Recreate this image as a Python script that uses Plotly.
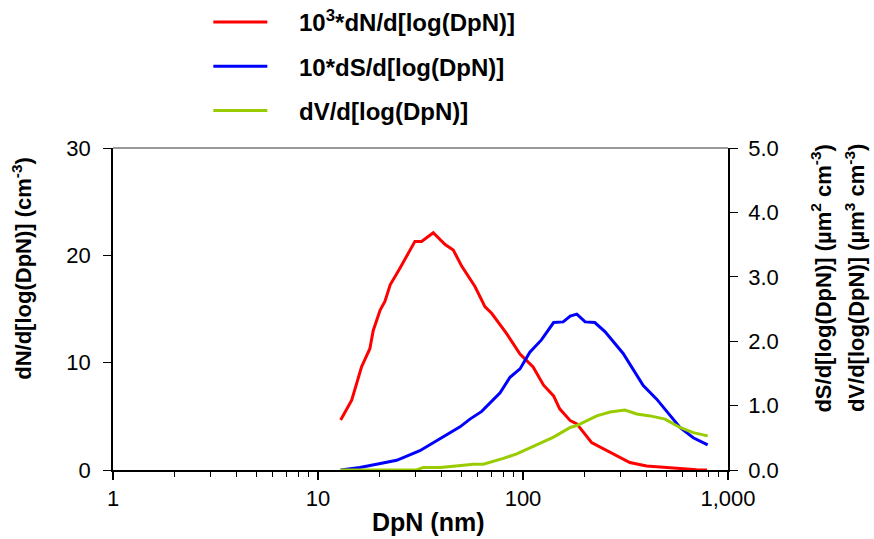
import plotly.graph_objects as go

# Red: 10^3 * dN/d[log(DpN)] (left axis)
dp_n = [12.9, 14.6, 16.3, 17.9, 18.6, 20.1, 21.2, 22.5, 25.1, 27.1, 29.7, 32.0, 36.5,
        41.7, 45.7, 50.2, 58.3, 65.3, 70.3, 83.2, 96.7, 112, 126, 141, 151, 170, 183,
        216, 276, 332, 401, 502, 605, 703, 790]
dn = [4.66, 6.5, 9.6, 11.3, 13.0, 14.9, 15.7, 17.25, 18.8, 19.9, 21.3, 21.3, 22.1,
      21.0, 20.5, 19.0, 17.1, 15.2, 14.6, 12.7, 10.8, 9.6, 7.9, 6.9, 5.7, 4.6, 4.3,
      2.56, 1.47, 0.69, 0.37, 0.22, 0.16, 0.03, 0.0]

# Blue: 10 * dS/d[log(DpN)] (right axis)
dp_s = [12.9, 16.0, 19.3, 24.2, 31.4, 37.9, 49.3, 55.1, 62.9, 77.3, 86.4, 96.7, 108,
        123, 141, 157, 170, 183, 201, 224, 251, 308, 339, 386, 449, 521, 583, 677, 796]
ds = [0.0, 0.04, 0.09, 0.15, 0.30, 0.45, 0.67, 0.79, 0.91, 1.20, 1.44, 1.57, 1.83,
      2.02, 2.29, 2.30, 2.39, 2.42, 2.30, 2.29, 2.15, 1.81, 1.60, 1.31, 1.10, 0.84,
      0.66, 0.50, 0.39]

# Green: dV/d[log(DpN)] (right axis)
dp_v = [12.9, 30.3, 32.6, 39.4, 45.7, 57.3, 64.0, 71.6, 80.2, 93.2, 112, 141, 170,
        183, 229, 266, 314, 359, 417, 493, 583, 677, 796]
dv = [0.0, 0.0, 0.04, 0.04, 0.06, 0.09, 0.09, 0.13, 0.18, 0.25, 0.36, 0.51, 0.66,
      0.69, 0.84, 0.90, 0.93, 0.87, 0.84, 0.79, 0.66, 0.58, 0.53]

x_tickvals = [1, 10, 100, 1000]
x_ticktext = ["1", "10", "100", "1,000"]
y1_ticks = [0, 10, 20, 30]
y2_ticks = [0, 1, 2, 3, 4, 5]

FONT = "Liberation Sans, Arial, sans-serif"
SP = "&nbsp;&nbsp;&nbsp;&nbsp;"

fig = go.Figure()
fig.add_trace(go.Scatter(x=dp_n, y=dn, mode="lines", name=SP + "<b>10<sup>3</sup>*dN/d[log(DpN)]</b>",
                         line=dict(color="#FF0000", width=3), legendgroup="a"))
fig.add_trace(go.Scatter(x=dp_s, y=ds, mode="lines", name=SP + "<b>10*dS/d[log(DpN)]</b>",
                         line=dict(color="#0000FF", width=3), yaxis="y2", legendgroup="b"))
fig.add_trace(go.Scatter(x=dp_v, y=dv, mode="lines", name=SP + "<b>dV/d[log(DpN)]</b>",
                         line=dict(color="#99CC00", width=3), yaxis="y2", legendgroup="c"))

fig.update_layout(
    width=874, height=539,
    margin=dict(l=113, r=146, t=148, b=69, autoexpand=False),
    paper_bgcolor="white", plot_bgcolor="white",
    font=dict(family=FONT, color="black"),
    showlegend=True,
    legend=dict(x=0.155, y=1.46, xanchor="left", yanchor="top",
                font=dict(size=24, family=FONT, color="black"),
                tracegroupgap=10, itemwidth=54, bgcolor="rgba(0,0,0,0)"),
    xaxis=dict(type="log", range=[0, 3], tickvals=x_tickvals, ticktext=x_ticktext,
               showgrid=False, zeroline=False, showline=True, linecolor="black", linewidth=1.5,
               ticks="outside", ticklen=8, tickcolor="black", tickwidth=1.5,
               tickfont=dict(size=22, family=FONT),
               minor=dict(ticks="outside", ticklen=5, tickcolor="black", tickwidth=1, dtick="D1", showgrid=False)),
    yaxis=dict(range=[0, 30], tickvals=y1_ticks, showgrid=False, zeroline=False,
               showline=True, linecolor="black", linewidth=1.5,
               ticks="outside", ticklen=8, tickcolor="black", tickwidth=1,
               ticklabelstandoff=8,
               tickfont=dict(size=22, family=FONT)),
    yaxis2=dict(range=[0, 5], tickvals=y2_ticks, tickformat=".1f", overlaying="y", side="right",
                showgrid=False, zeroline=False, showline=True, linecolor="black", linewidth=1.5,
                ticks="outside", ticklen=8, tickcolor="black", tickwidth=1,
                ticklabelstandoff=6,
                tickfont=dict(size=22, family=FONT)),
    shapes=[dict(type="line", xref="paper", yref="paper", x0=0, x1=1, y0=1, y1=1,
                 line=dict(color="#777777", width=1.5))],
    annotations=[
        dict(text="<b>dN/d[log(DpN)] (cm<sup>-3</sup>)</b>", xref="paper", yref="paper",
             x=-0.1485, y=0.627, textangle=-90, showarrow=False, font=dict(size=22, family=FONT),
             xanchor="center", yanchor="middle"),
        dict(text="<b>dS/d[log(DpN)] (µm<sup>2</sup> cm<sup>-3</sup>)</b>", xref="paper", yref="paper",
             x=1.152, y=0.596, textangle=-90, showarrow=False, font=dict(size=22, family=FONT),
             xanchor="center", yanchor="middle"),
        dict(text="<b>dV/d[log(DpN)] (µm<sup>3</sup> cm<sup>-3</sup>)</b>", xref="paper", yref="paper",
             x=1.2065, y=0.596, textangle=-90, showarrow=False, font=dict(size=22, family=FONT),
             xanchor="center", yanchor="middle"),
        dict(text="<b>DpN (nm)</b>", xref="paper", yref="paper",
             x=0.513, y=-0.163, showarrow=False, font=dict(size=25, family=FONT),
             xanchor="center", yanchor="middle"),
    ],
)

fig.write_html("out.html")
